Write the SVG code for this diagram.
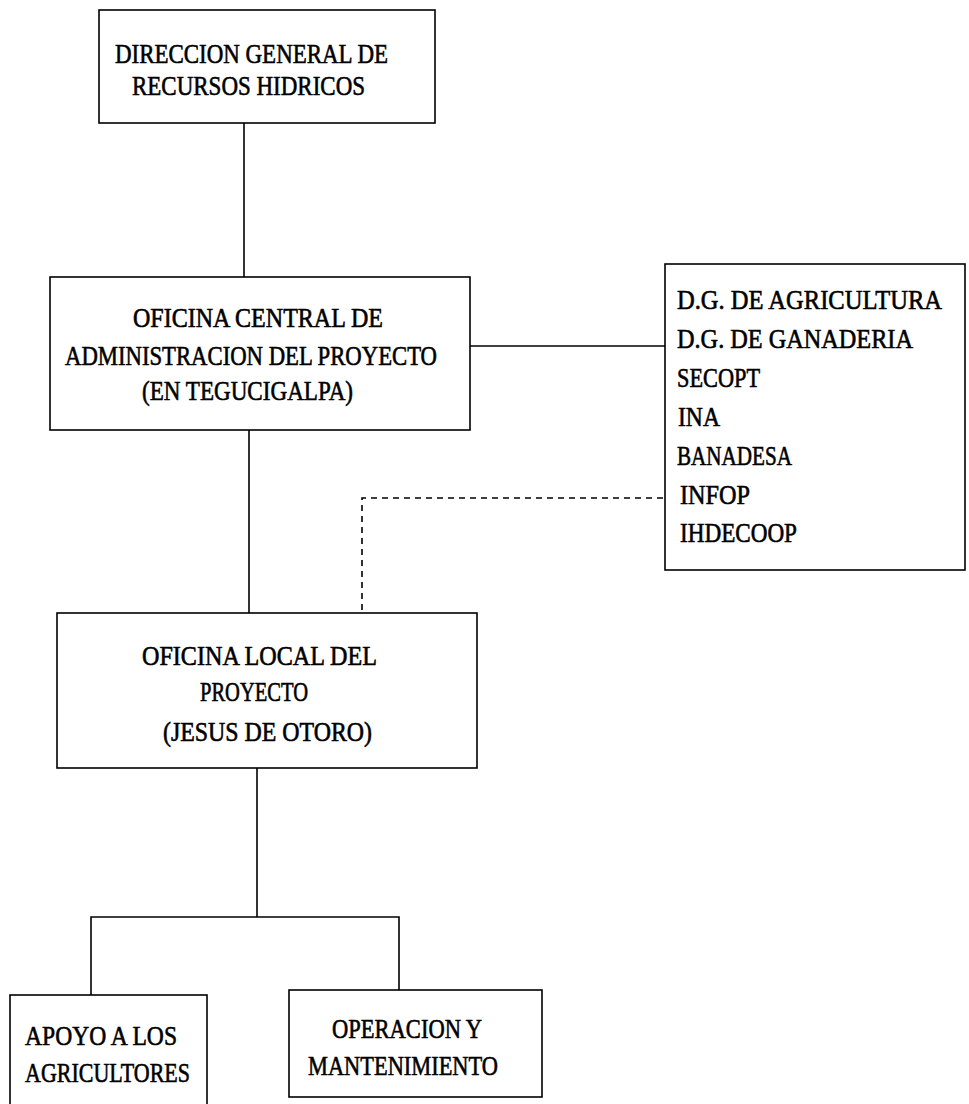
<svg xmlns="http://www.w3.org/2000/svg" width="969" height="1104" viewBox="0 0 969 1104">
<style>
.box{fill:#fff;stroke:#000;stroke-width:1.6}
.ln{fill:none;stroke:#000;stroke-width:1.6}
.dash{fill:none;stroke:#000;stroke-width:1.6;stroke-dasharray:6 5}
text{font-family:"Liberation Serif","DejaVu Serif",serif;font-size:27px;font-weight:normal;fill:#000;stroke:#000;stroke-width:0.6}
</style>
<rect width="969" height="1104" fill="#fff"/>
<g id="connectors">
<line class="ln" x1="244" y1="123" x2="244" y2="278"/>
<line class="ln" x1="249" y1="430" x2="249" y2="614"/>
<line class="ln" x1="470" y1="346" x2="665" y2="346"/>
<polyline class="dash" points="663,498 362,498 362,612"/>
<line class="ln" x1="257" y1="768" x2="257" y2="917"/>
<polyline class="ln" points="91,995 91,917 399,917 399,990"/>
</g>
<g id="n1">
<rect class="box" x="99" y="10" width="336" height="113"/>
<text x="115" y="63" textLength="273" lengthAdjust="spacingAndGlyphs">DIRECCION GENERAL DE</text>
<text x="132" y="95" textLength="233" lengthAdjust="spacingAndGlyphs">RECURSOS HIDRICOS</text>
</g>
<g id="n2">
<rect class="box" x="50" y="277" width="420" height="153"/>
<text x="133" y="327" textLength="250" lengthAdjust="spacingAndGlyphs">OFICINA CENTRAL DE</text>
<text x="65" y="365" textLength="372" lengthAdjust="spacingAndGlyphs">ADMINISTRACION DEL PROYECTO</text>
<text x="142" y="400" textLength="211" lengthAdjust="spacingAndGlyphs">(EN TEGUCIGALPA)</text>
</g>
<g id="n3">
<rect class="box" x="665" y="264" width="300" height="306"/>
<text x="677" y="309" textLength="265" lengthAdjust="spacingAndGlyphs">D.G.  DE  AGRICULTURA</text>
<text x="677" y="348" textLength="236" lengthAdjust="spacingAndGlyphs">D.G.  DE  GANADERIA</text>
<text x="677" y="387" textLength="83" lengthAdjust="spacingAndGlyphs">SECOPT</text>
<text x="678" y="426" textLength="42" lengthAdjust="spacingAndGlyphs">INA</text>
<text x="677" y="465" textLength="115" lengthAdjust="spacingAndGlyphs">BANADESA</text>
<text x="680" y="504" textLength="70" lengthAdjust="spacingAndGlyphs">INFOP</text>
<text x="680" y="542" textLength="117" lengthAdjust="spacingAndGlyphs">IHDECOOP</text>
</g>
<g id="n4">
<rect class="box" x="57" y="613" width="420" height="155"/>
<text x="142" y="665" textLength="235" lengthAdjust="spacingAndGlyphs">OFICINA LOCAL DEL</text>
<text x="200" y="701" textLength="108" lengthAdjust="spacingAndGlyphs">PROYECTO</text>
<text x="163" y="741" textLength="209" lengthAdjust="spacingAndGlyphs">(JESUS DE OTORO)</text>
</g>
<g id="n5">
<rect class="box" x="10" y="995" width="197" height="120"/>
<text x="25" y="1045" textLength="152" lengthAdjust="spacingAndGlyphs">APOYO A LOS</text>
<text x="25" y="1082" textLength="165" lengthAdjust="spacingAndGlyphs">AGRICULTORES</text>
</g>
<g id="n6">
<rect class="box" x="289" y="990" width="253" height="107"/>
<text x="332" y="1038" textLength="150" lengthAdjust="spacingAndGlyphs">OPERACION Y</text>
<text x="308" y="1075" textLength="190" lengthAdjust="spacingAndGlyphs">MANTENIMIENTO</text>
</g>
</svg>
